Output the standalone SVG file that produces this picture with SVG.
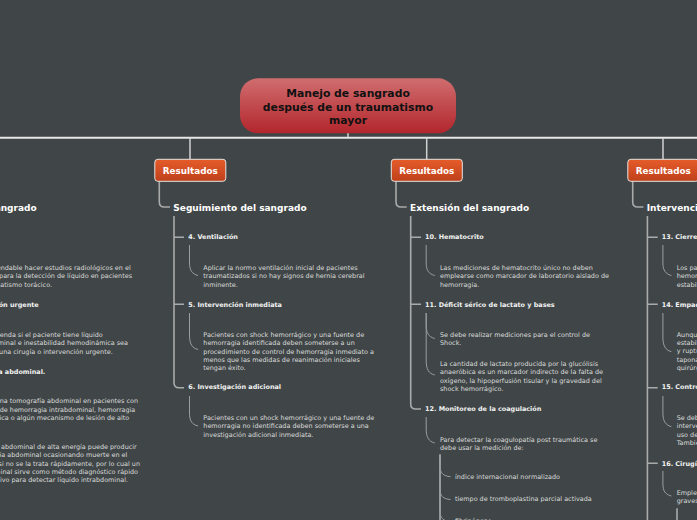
<svg xmlns="http://www.w3.org/2000/svg" width="697" height="520" viewBox="0 0 697 520">
<defs>
<linearGradient id="gRoot" x1="0" y1="0" x2="0" y2="1"><stop offset="0" stop-color="#d06d6f"/><stop offset="1" stop-color="#b2262c"/></linearGradient>
<linearGradient id="gRes" x1="0" y1="0" x2="0" y2="1"><stop offset="0" stop-color="#e65c2a"/><stop offset="1" stop-color="#bf401b"/></linearGradient>
<style>
text{font-family:"DejaVu Sans","Liberation Sans",sans-serif}
.b{font-size:6.45px;fill:#d9dada}
.s{font-size:6.45px;font-weight:bold;fill:#f2f2f2}
.h{font-size:9px;font-weight:bold;fill:#ffffff}
.e{text-anchor:end}
.ln{stroke:#a9abab;stroke-width:1.6;fill:none}
.cv{stroke:#9c9e9e;stroke-width:1;fill:none}
.top{stroke:#d0d2d2;stroke-width:1.5;fill:none}
.res rect{fill:url(#gRes);stroke:#e4e4e4;stroke-width:1}
.res text{font-size:8.8px;font-weight:bold;fill:#ffffff;text-anchor:middle}
</style>
</defs>
<rect width="697" height="520" fill="#404647"/>

<g id="connectors">
<line x1="0" y1="137.7" x2="697" y2="137.7" stroke="#e6e8e8" stroke-width="2"/>
<line class="top" x1="348" y1="133" x2="348" y2="137"/>
<line class="top" x1="190" y1="138" x2="190" y2="159"/>
<line class="top" x1="426.7" y1="138" x2="426.7" y2="159"/>
<line class="top" x1="663" y1="138" x2="663" y2="159"/>
<!-- col2 -->
<path class="ln" d="M159.3 181.5V202Q159.3 207 164.3 207H170"/>
<path class="ln" d="M174 216V382.7Q174 387.7 179 387.7H184M174 237.3H184M174 304.3H184"/>
<path class="cv" d="M189.5 245V263C189.5 270 192 274 198 275.5"/>
<path class="cv" d="M189.5 313V335C189.5 344 192 348 198 349.5"/>
<path class="cv" d="M189.5 396V413C189.5 421 192 424.5 198 426"/>
<!-- col3 -->
<path class="ln" d="M396 181.5V202Q396 207 401 207H406.7"/>
<path class="ln" d="M410.7 216V404Q410.7 409 415.7 409H421M410.7 237.3H421M410.7 304.3H421"/>
<path class="cv" d="M426.2 245V263C426.2 270 428.7 274 434.7 275.5"/>
<path class="cv" d="M426.2 313V325C426.2 333 428.7 337 434.7 338.5"/>
<path class="cv" d="M426.2 313V361C426.2 369 428.7 373.5 434.7 375"/>
<path class="cv" d="M426.2 417V429C426.2 437 428.7 441.5 434.7 443"/>
<path class="ln" d="M440 454.3V520"/>
<path class="cv" d="M440 455V466C440 473 443 476 450.5 476.7"/>
<path class="cv" d="M440 455V489C440 496 443 499 450.5 499.5"/>
<path class="cv" d="M440 455V511C440 518 443 521 450.5 521.5"/>
<!-- col4 -->
<path class="ln" d="M632.7 181.5V202Q632.7 207 637.7 207H643.4"/>
<path class="ln" d="M647.4 216V520M647.4 237.3H657.7M647.4 304.3H657.7M647.4 387.7H657.7M647.4 463.3H657.7"/>
<path class="cv" d="M662.9 245V263C662.9 270 665.4 274 671.4 275.5"/>
<path class="cv" d="M662.9 313V337C662.9 346 665.4 350 671.4 351.7"/>
<path class="cv" d="M662.9 396V413C662.9 421 665.4 425 671.4 426.7"/>
<path class="cv" d="M662.9 471V484C662.9 491 665.4 494.5 671.4 496"/>
<path class="ln" d="M677 508.3V520"/>
</g>

<g id="root">
<rect x="240" y="78.3" width="216" height="55" rx="18" fill="url(#gRoot)"/>
<text x="348" y="97" font-size="10.8" font-weight="bold" fill="#111" text-anchor="middle">Manejo de sangrado</text>
<text x="348" y="110.5" font-size="10.8" font-weight="bold" fill="#111" text-anchor="middle">después de un traumatismo</text>
<text x="348" y="124" font-size="10.8" font-weight="bold" fill="#111" text-anchor="middle">mayor</text>
</g>

<g id="res2" class="res"><rect x="154.8" y="159.3" width="71" height="22" rx="3"/><text x="190.3" y="174">Resultados</text></g>
<g id="res3" class="res"><rect x="391.3" y="159.3" width="71" height="22" rx="3"/><text x="426.8" y="174">Resultados</text></g>
<g id="res4" class="res"><rect x="627.8" y="159.3" width="71" height="22" rx="3"/><text x="663.3" y="174">Resultados</text></g>

<g id="col1">
<text class="h e" x="36.7" y="211">Fuente del sangrado</text>
<text class="b e" x="130.7" y="270">Es recomendable hacer estudios radiológicos en el</text>
<text class="b e" x="132" y="278.3">tórax para la detección de líquido en pacientes</text>
<text class="b e" x="52" y="286.7">con traumatismo torácico.</text>
<text class="s e" x="38.7" y="306.7">7. Intervención urgente</text>
<text class="b e" x="102.7" y="337">Se recomienda si el paciente tiene líquido</text>
<text class="b e" x="128" y="345.3">intraabdominal e inestabilidad hemodinámica sea</text>
<text class="b e" x="112.7" y="353.6">sometido a una cirugía o intervención urgente.</text>
<text class="s e" x="45.3" y="373.5">8. Tomografía abdominal.</text>
<text class="b e" x="138" y="403.3">Se sugiere una tomografía abdominal en pacientes con</text>
<text class="b e" x="135.3" y="411.6">sospecha de hemorragia intrabdominal, hemorragia</text>
<text class="b e" x="129.3" y="420">pélvica o algún mecanismo de lesión de alto</text>
<text class="b e" x="136.7" y="449.3">Un traumatismo abdominal de alta energía puede producir</text>
<text class="b e" x="127.3" y="457.3">hemorragia abdominal ocasionando muerte en el</text>
<text class="b e" x="140" y="465.6">paciente si no se la trata rápidamente, por lo cual un</text>
<text class="b e" x="138" y="473.6">eco abdominal sirve como método diagnóstico rápido</text>
<text class="b e" x="128" y="481.6">y no invasivo para detectar líquido intrabdominal.</text>
</g>

<g id="col2">
<text class="h" x="173.3" y="211">Seguimiento del sangrado</text>
<text class="s" x="188.3" y="239.3">4. Ventilación</text>
<text class="b" y="270"><tspan x="203.3">Aplicar la normo ventilación inicial de pacientes</tspan><tspan x="203.3" dy="8.3">traumatizados si no hay signos de hernia cerebral</tspan><tspan x="203.3" dy="8.3">inminente.</tspan></text>
<text class="s" x="188.3" y="306.7">5. Intervención inmediata</text>
<text class="b" y="337"><tspan x="203.3">Pacientes con shock hemorrágico y una fuente de</tspan><tspan x="203.3" dy="8.3">hemorragia identificada deben someterse a un</tspan><tspan x="203.3" dy="8.3">procedimiento de control de hemorragia inmediato a</tspan><tspan x="203.3" dy="8.3">menos que las medidas de reanimación iniciales</tspan><tspan x="203.3" dy="8.3">tengan éxito.</tspan></text>
<text class="s" x="188.3" y="389.3">6. Investigación adicional</text>
<text class="b" y="420"><tspan x="203.3">Pacientes con un shock hemorrágico y una fuente de</tspan><tspan x="203.3" dy="8.3">hemorragia no identificada deben someterse a una</tspan><tspan x="203.3" dy="8.3">investigación adicional inmediata.</tspan></text>
</g>

<g id="col3">
<text class="h" x="410" y="211">Extensión del sangrado</text>
<text class="s" x="425" y="239.3">10. Hematocrito</text>
<text class="b" y="270"><tspan x="440">Las mediciones de hematocrito único no deben</tspan><tspan x="440" dy="8.3">emplearse como marcador de laboratorio aislado de</tspan><tspan x="440" dy="8.3">hemorragia.</tspan></text>
<text class="s" x="425" y="306.7">11. Déficit sérico de lactato y bases</text>
<text class="b" y="337"><tspan x="440">Se debe realizar mediciones para el control de</tspan><tspan x="440" dy="8.3">Shock.</tspan></text>
<text class="b" y="366"><tspan x="440">La cantidad de lactato producida por la glucólisis</tspan><tspan x="440" dy="8.3">anaeróbica es un marcador indirecto de la falta de</tspan><tspan x="440" dy="8.3">oxígeno, la hipoperfusión tisular y la gravedad del</tspan><tspan x="440" dy="8.3">shock hemorrágico.</tspan></text>
<text class="s" x="425" y="411">12. Monitoreo de la coagulación</text>
<text class="b" y="441.5"><tspan x="440">Para detectar la coagulopatía post traumática se</tspan><tspan x="440" dy="8.3">debe usar la medición de:</tspan></text>
<text class="b" x="455" y="478.6">índice internacional normalizado</text>
<text class="b" x="455" y="500.6">tiempo de tromboplastina parcial activada</text>
<text class="b" x="455" y="522.5">fibrinógeno</text>
</g>

<g id="col4">
<text class="h" x="646.7" y="211">Intervención quirúrgica</text>
<text class="s" x="661.7" y="239.3">13. Cierre del anillo pélvico</text>
<text class="b" y="270"><tspan x="676.7">Los pacientes con ruptura del anillo pélvico</tspan><tspan x="676.7" dy="8.3">hemorrágico deben someterse a cierre y</tspan><tspan x="676.7" dy="8.3">estabilización inmediata del anillo pélvico.</tspan></text>
<text class="s" x="661.7" y="306.7">14. Empaquetamiento y embolización</text>
<text class="b" y="336.7"><tspan x="676.7">Aunque se logre la</tspan><tspan x="676.7" dy="8.3">estabilización</tspan><tspan x="676.7" dy="8.3">y ruptura del anillo</tspan><tspan x="676.7" dy="8.3">taponamiento</tspan><tspan x="676.7" dy="8.3">quirúrgico</tspan></text>
<text class="s" x="661.7" y="389.3">15. Control de daños</text>
<text class="b" y="420"><tspan x="676.7">Se debe realizar</tspan><tspan x="676.7" dy="8.3">intervención</tspan><tspan x="676.7" dy="8.3">uso de</tspan><tspan x="676.7" dy="8.3">También</tspan></text>
<text class="s" x="661.7" y="465.6">16. Cirugía</text>
<text class="b" y="495"><tspan x="676.7">Emplear</tspan><tspan x="676.7" dy="8.3">graves</tspan></text>
</g>
</svg>
